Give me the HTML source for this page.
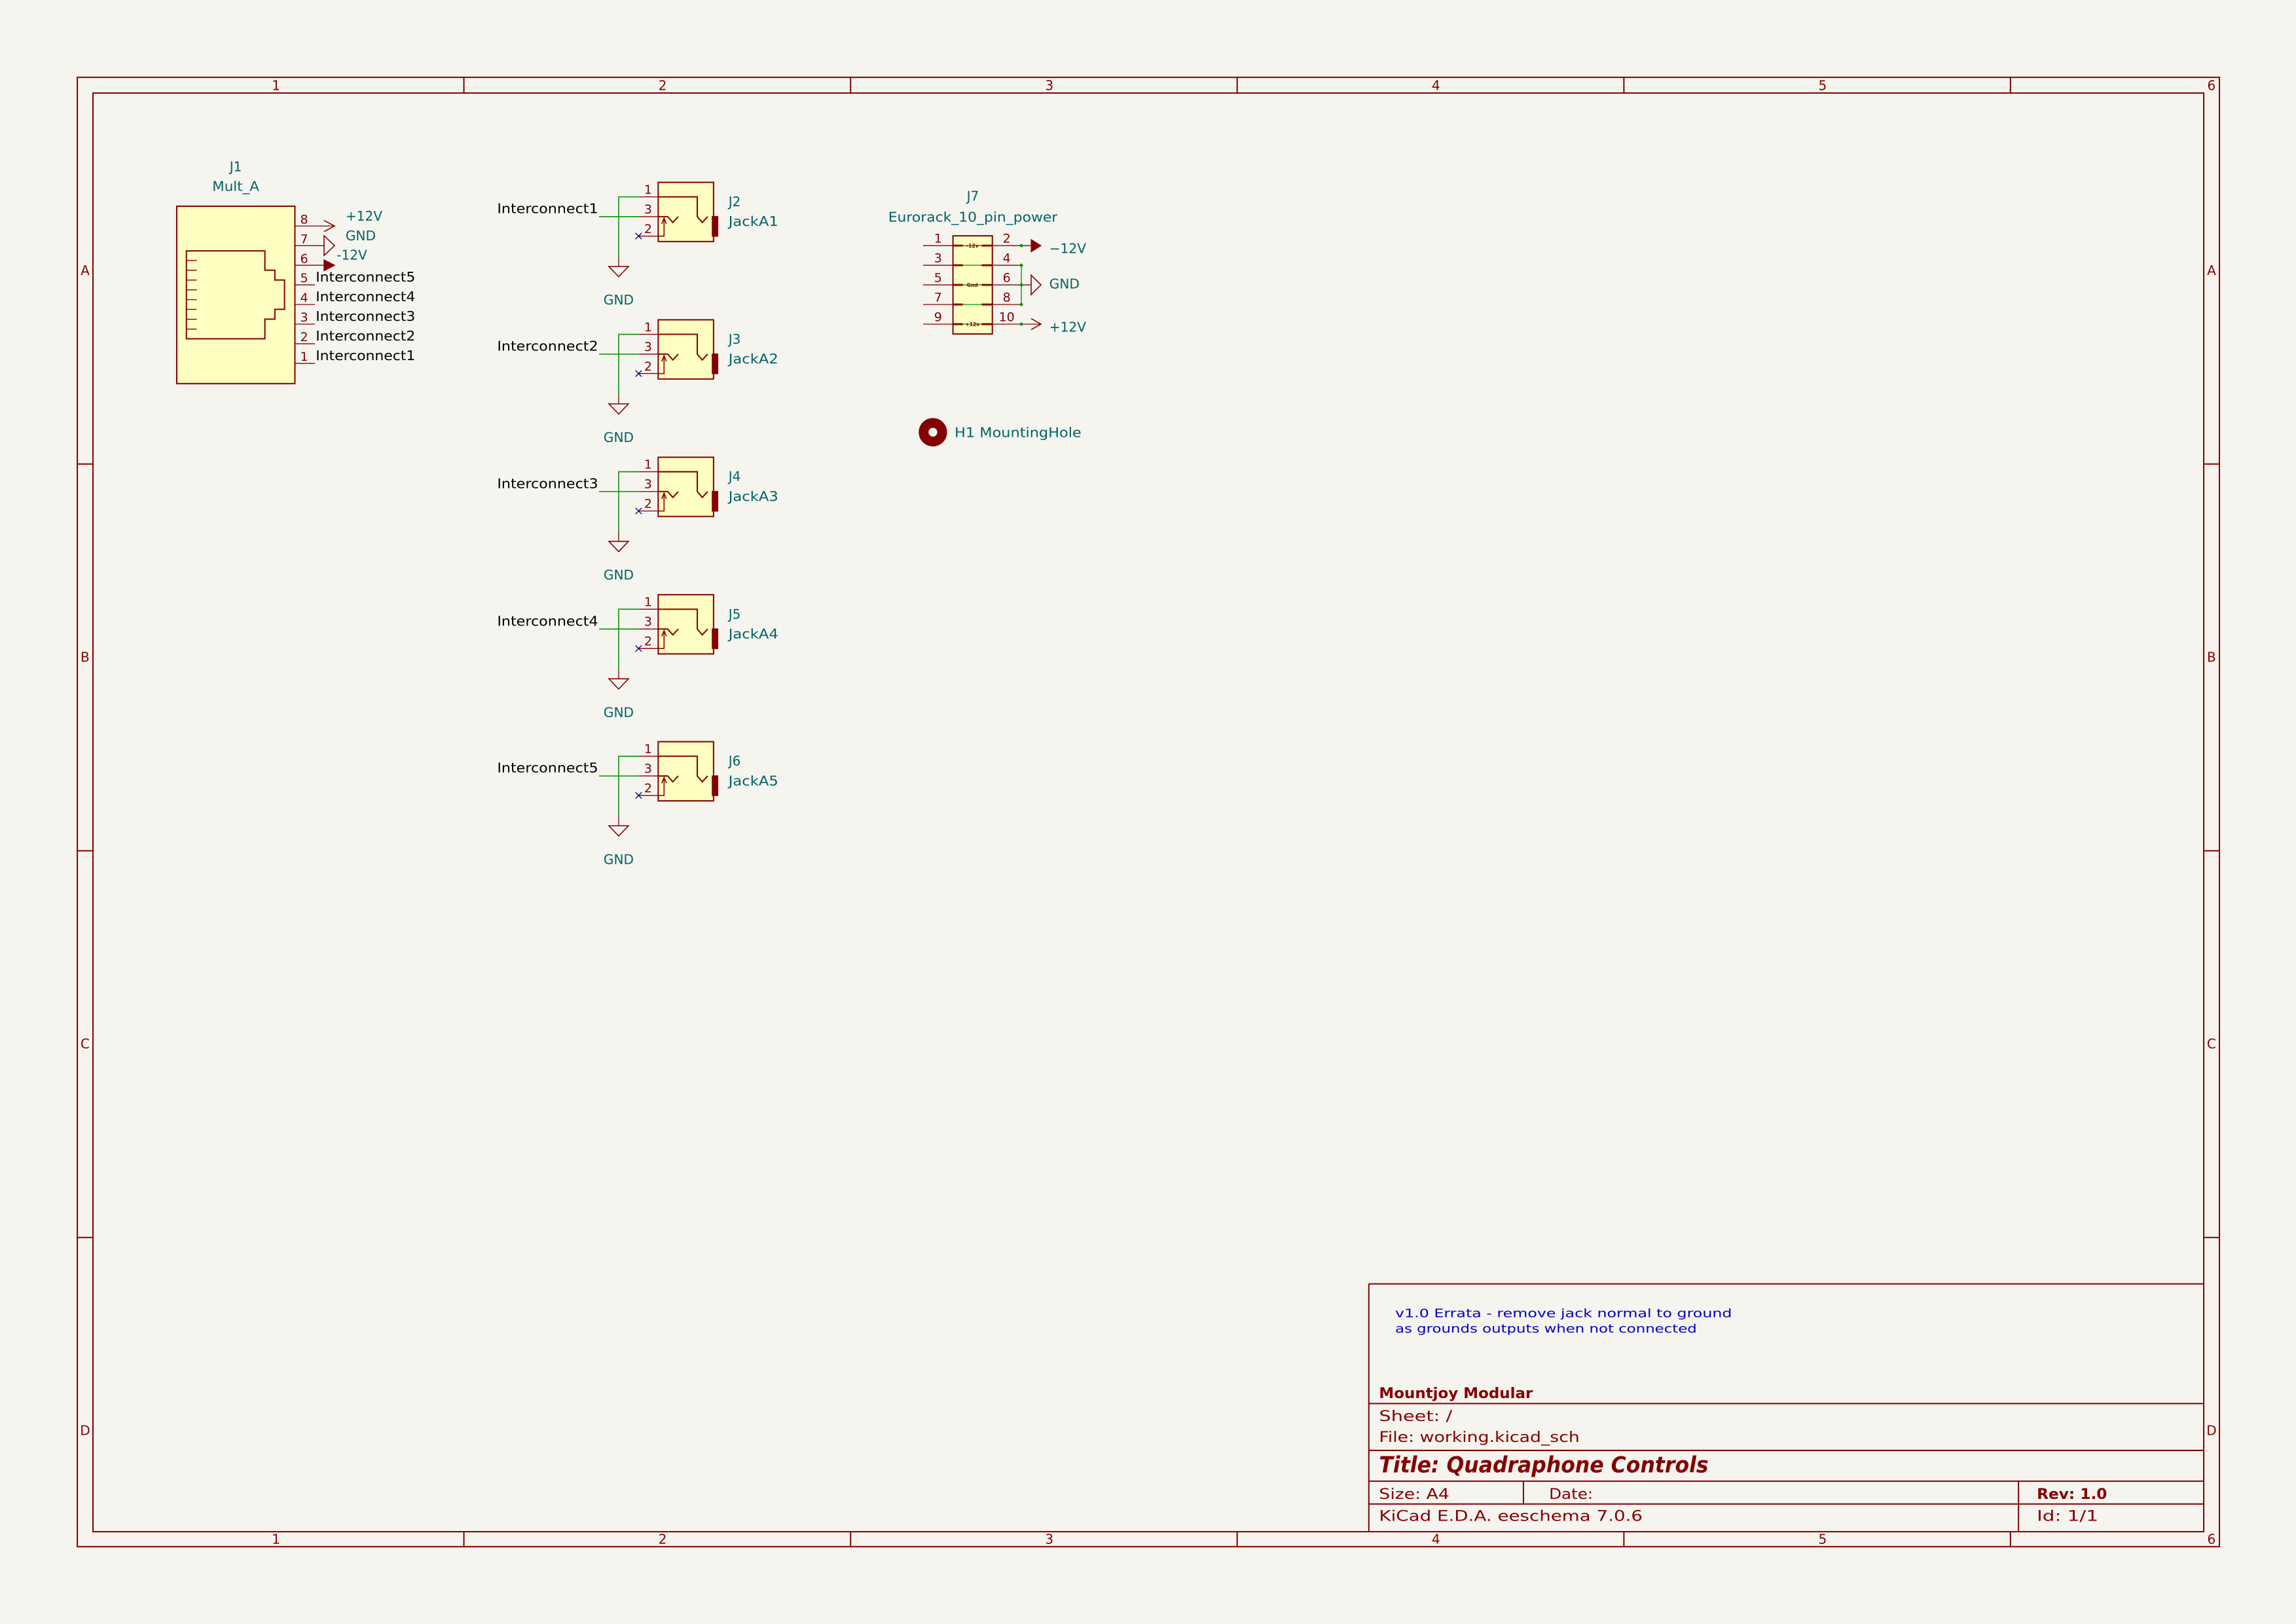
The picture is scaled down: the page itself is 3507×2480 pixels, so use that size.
<!DOCTYPE html>
<html><head><meta charset="utf-8">
<style>
html,body{margin:0;padding:0;background:#f5f4ef;}
svg{display:block;}
text{font-family:"DejaVu Sans","Liberation Sans",sans-serif;}
.r{fill:#840000;}
.t{fill:#006464;}
.k{fill:#000;}
</style></head>
<body>
<svg xmlns="http://www.w3.org/2000/svg" width="3507" height="2480" viewBox="0 0 1568 1108.8">
<rect x="0" y="0" width="1568" height="1108.8" fill="#f5f4ef"/>
<defs>
<g id="jack">
  <rect x="449.5" y="124.5" width="37.8" height="40.4" fill="#ffffc2" stroke="#840000" stroke-width="0.9"/>
  <rect x="486.1" y="147.5" width="4.4" height="14.1" fill="#840000"/>
  <g stroke="#840000" stroke-width="0.6" fill="none">
    <path d="M436.1 134.4H449.5M436.1 147.9H449.5M436.1 161.2H449.5"/>
    <path d="M449.5 134.4H476.2V147.9L479.6 151.9L483.3 147.9" stroke-width="0.9"/>
    <path d="M449.5 147.9H456L459.5 151.9L463.2 147.9" stroke-width="0.9"/>
    <path d="M449.5 161.2H453.5V149.5M451.9 152.9L453.5 149L455.1 152.9" stroke-width="0.7"/>
    <path d="M422.5 175.5V181.9"/>
    <path d="M415.8 181.9H429.2L422.5 188.9Z" stroke-width="0.7"/>
  </g>
  <path d="M434 159.1L438.2 163.3M438.2 159.1L434 163.3" stroke="#000084" stroke-width="0.6"/>
  <g stroke="#009600" stroke-width="0.7" fill="none">
    <path d="M436.1 134.4H422.5V175.5"/>
    <path d="M409.1 147.9H436.1"/>
  </g>
</g>
</defs>

<!-- border -->
<g stroke="#840000" stroke-width="0.9" fill="none">
  <rect x="52.8" y="52.8" width="1462.9" height="1003.2"/>
  <rect x="63.5" y="63.5" width="1441.5" height="982.3"/>
  <path d="M316.8 52.8V63.5M580.9 52.8V63.5M844.9 52.8V63.5M1109 52.8V63.5M1373 52.8V63.5"/>
  <path d="M316.8 1045.8V1056M580.9 1045.8V1056M844.9 1045.8V1056M1109 1045.8V1056M1373 1045.8V1056"/>
  <path d="M52.8 316.8H63.5M52.8 580.9H63.5M52.8 844.9H63.5"/>
  <path d="M1505 316.8H1515.7M1505 580.9H1515.7M1505 844.9H1515.7"/>
</g>
<g class="r" font-size="9" text-anchor="middle">
  <text x="188.5" y="61.4">1</text><text x="452.5" y="61.4">2</text><text x="716.6" y="61.4">3</text><text x="980.6" y="61.4">4</text><text x="1244.7" y="61.4">5</text><text x="1510.3" y="61.4">6</text>
  <text x="188.5" y="1054">1</text><text x="452.5" y="1054">2</text><text x="716.6" y="1054">3</text><text x="980.6" y="1054">4</text><text x="1244.7" y="1054">5</text><text x="1510.3" y="1054">6</text>
  <text x="58.1" y="187.8">A</text><text x="58.1" y="451.8">B</text><text x="58.1" y="715.9">C</text><text x="58.1" y="979.9">D</text>
  <text x="1510.3" y="187.8">A</text><text x="1510.3" y="451.8">B</text><text x="1510.3" y="715.9">C</text><text x="1510.3" y="979.9">D</text>
</g>

<!-- title block -->
<g stroke="#840000" stroke-width="0.9" fill="none">
  <path d="M934.8 876.6H1505M934.8 876.6V1045.8"/>
  <path d="M934.8 958.3H1505M934.8 990.3H1505M934.8 1011.3H1505M934.8 1026.9H1505"/>
  <path d="M1040.4 1011.3V1026.9M1378.5 1011.3V1045.8"/>
</g>
<g font-size="8" fill="#0000c2">
  <text x="952.8" y="899.4" textLength="230" lengthAdjust="spacingAndGlyphs">v1.0 Errata - remove jack normal to ground</text>
  <text x="952.8" y="909.8" textLength="206" lengthAdjust="spacingAndGlyphs">as grounds outputs when not connected</text>
</g>
<g class="r">
  <text x="941.8" y="954.6" font-size="10" font-weight="bold" textLength="105" lengthAdjust="spacingAndGlyphs">Mountjoy Modular</text>
  <text x="941.8" y="970.2" font-size="10" textLength="50" lengthAdjust="spacingAndGlyphs">Sheet: /</text>
  <text x="941.8" y="984.6" font-size="10" textLength="137" lengthAdjust="spacingAndGlyphs">File: working.kicad_sch</text>
  <text x="941.8" y="1005.2" font-size="15" font-weight="bold" font-style="italic" textLength="225" lengthAdjust="spacingAndGlyphs">Title: Quadraphone Controls</text>
  <text x="941.8" y="1023.5" font-size="10" textLength="48" lengthAdjust="spacingAndGlyphs">Size: A4</text>
  <text x="1057.9" y="1023.5" font-size="10" textLength="30" lengthAdjust="spacingAndGlyphs">Date:</text>
  <text x="1391" y="1023.5" font-size="10" font-weight="bold" textLength="48" lengthAdjust="spacingAndGlyphs">Rev: 1.0</text>
  <text x="941.8" y="1038.3" font-size="10" textLength="180" lengthAdjust="spacingAndGlyphs">KiCad E.D.A.  eeschema 7.0.6</text>
  <text x="1391" y="1038.3" font-size="10" textLength="42" lengthAdjust="spacingAndGlyphs">Id: 1/1</text>
</g>

<!-- J1 -->
<g stroke="#840000" fill="none">
  <rect x="120.7" y="140.8" width="80.7" height="121.1" fill="#ffffc2" stroke-width="0.9"/>
  <path d="M127.3 171.3H180.9V184.5H187.7V191.2H194.3V211.2H187.7V217.9H180.9V231.3H127.3Z" stroke-width="0.9"/>
  <path d="M127.3 177.8H134.4M127.3 184.5H134.4M127.3 191.2H134.4M127.3 197.9H134.4M127.3 204.6H134.4M127.3 211.2H134.4M127.3 218H134.4M127.3 224.7H134.4" stroke-width="0.6"/>
  <path d="M201.4 154.3H228.5M201.4 167.7H221.3M201.4 181.1H221.3M201.4 194.5H215.1M201.4 207.9H215.1M201.4 221.3H215.1M201.4 234.7H215.1M201.4 248.1H215.1" stroke-width="0.6"/>
  <path d="M221.3 150.5L228.5 154.3L221.3 158.1" stroke-width="0.7"/>
  <path d="M221.3 160.9L228.5 167.7L221.3 174.4Z" stroke-width="0.7"/>
</g>
<path d="M221.3 177.4L228.5 181.1L221.3 184.8Z" fill="#840000" stroke="#840000" stroke-width="0.6"/>
<g class="t" font-size="9">
  <text x="161" y="117" text-anchor="middle">J1</text>
  <text x="161" y="130.4" text-anchor="middle" textLength="32" lengthAdjust="spacingAndGlyphs">Mult_A</text>
  <text x="236" y="150.7">+12V</text>
  <text x="236" y="164">GND</text>
  <text x="229.9" y="177.3">-12V</text>
</g>
<g class="r" font-size="8.5" text-anchor="middle">
  <text x="207.7" y="152.6">8</text><text x="207.7" y="166">7</text><text x="207.7" y="179.4">6</text><text x="207.7" y="192.8">5</text>
  <text x="207.7" y="206.2">4</text><text x="207.7" y="219.6">3</text><text x="207.7" y="233">2</text><text x="207.7" y="246.4">1</text>
</g>
<g class="k" font-size="9">
  <text x="215.6" y="192.3" textLength="68" lengthAdjust="spacingAndGlyphs">Interconnect5</text>
  <text x="215.6" y="205.7" textLength="68" lengthAdjust="spacingAndGlyphs">Interconnect4</text>
  <text x="215.6" y="219.1" textLength="68" lengthAdjust="spacingAndGlyphs">Interconnect3</text>
  <text x="215.6" y="232.5" textLength="68" lengthAdjust="spacingAndGlyphs">Interconnect2</text>
  <text x="215.6" y="245.9" textLength="68" lengthAdjust="spacingAndGlyphs">Interconnect1</text>
</g>

<!-- Jacks -->
<use href="#jack" transform="translate(0,0)"/>
<use href="#jack" transform="translate(0,93.85)"/>
<use href="#jack" transform="translate(0,187.7)"/>
<use href="#jack" transform="translate(0,281.55)"/>
<use href="#jack" transform="translate(0,381.9)"/>

<g font-size="8.5" class="r" text-anchor="middle">
  <text x="442.6" y="132.3">1</text><text x="442.6" y="145.7">3</text><text x="442.6" y="159.1">2</text>
  <text x="442.6" y="226.2">1</text><text x="442.6" y="239.6">3</text><text x="442.6" y="253">2</text>
  <text x="442.6" y="320">1</text><text x="442.6" y="333.4">3</text><text x="442.6" y="346.8">2</text>
  <text x="442.6" y="413.9">1</text><text x="442.6" y="427.3">3</text><text x="442.6" y="440.7">2</text>
  <text x="442.6" y="514.2">1</text><text x="442.6" y="527.6">3</text><text x="442.6" y="541">2</text>
</g>
<g font-size="9" class="t">
  <text x="497.5" y="140.8">J2</text><text x="497.5" y="154.3" textLength="34" lengthAdjust="spacingAndGlyphs">JackA1</text>
  <text x="497.5" y="234.7">J3</text><text x="497.5" y="248.2" textLength="34" lengthAdjust="spacingAndGlyphs">JackA2</text>
  <text x="497.5" y="328.5">J4</text><text x="497.5" y="342" textLength="34" lengthAdjust="spacingAndGlyphs">JackA3</text>
  <text x="497.5" y="422.4">J5</text><text x="497.5" y="435.9" textLength="34" lengthAdjust="spacingAndGlyphs">JackA4</text>
  <text x="497.5" y="522.7">J6</text><text x="497.5" y="536.2" textLength="34" lengthAdjust="spacingAndGlyphs">JackA5</text>
</g>
<g font-size="9" class="t" text-anchor="middle">
  <text x="422.5" y="208">GND</text>
  <text x="422.5" y="301.9">GND</text>
  <text x="422.5" y="395.7">GND</text>
  <text x="422.5" y="489.6">GND</text>
  <text x="422.5" y="589.9">GND</text>
</g>
<g font-size="9" class="k" text-anchor="end">
  <text x="408.5" y="145.5" textLength="69" lengthAdjust="spacingAndGlyphs">Interconnect1</text>
  <text x="408.5" y="239.4" textLength="69" lengthAdjust="spacingAndGlyphs">Interconnect2</text>
  <text x="408.5" y="333.2" textLength="69" lengthAdjust="spacingAndGlyphs">Interconnect3</text>
  <text x="408.5" y="427.1" textLength="69" lengthAdjust="spacingAndGlyphs">Interconnect4</text>
  <text x="408.5" y="527.4" textLength="69" lengthAdjust="spacingAndGlyphs">Interconnect5</text>
</g>

<!-- J7 -->
<rect x="650.8" y="161" width="26.9" height="67" fill="#ffffc2" stroke="#840000" stroke-width="0.9"/>
<g stroke="#009600" stroke-width="0.6">
  <path d="M657.6 167.7H670.4M657.6 181.1H670.4M657.6 194.5H670.4M657.6 207.9H670.4M657.6 221.3H670.4"/>
  <path d="M697.5 181.1V207.9"/>
</g>
<g stroke="#840000" stroke-width="1.3">
  <path d="M650.8 167.7H657.6M650.8 181.1H657.6M650.8 194.5H657.6M650.8 207.9H657.6M650.8 221.3H657.6"/>
  <path d="M670.4 167.7H677.7M670.4 181.1H677.7M670.4 194.5H677.7M670.4 207.9H677.7M670.4 221.3H677.7"/>
</g>
<g stroke="#840000" stroke-width="0.6" fill="none">
  <path d="M630.4 167.7H650.8M630.4 181.1H650.8M630.4 194.5H650.8M630.4 207.9H650.8M630.4 221.3H650.8"/>
  <path d="M677.7 167.7H704.2M677.7 181.1H697.5M677.7 194.5H704.2M677.7 207.9H697.5M677.7 221.3H710.9"/>
  <path d="M704.2 187.8L710.9 194.5L704.2 201.2Z" stroke-width="0.7"/>
  <path d="M704.2 217.5L710.9 221.3L704.2 225.1" stroke-width="0.7"/>
</g>
<path d="M704.2 163.5L710.9 167.7L704.2 172Z" fill="#840000" stroke="#840000" stroke-width="0.5"/>
<g fill="#009600">
  <circle cx="697.5" cy="167.7" r="1.1"/><circle cx="697.5" cy="181.1" r="1.1"/><circle cx="697.5" cy="194.5" r="1.1"/>
  <circle cx="697.5" cy="207.9" r="1.1"/><circle cx="697.5" cy="221.3" r="1.1"/>
</g>
<g class="r" font-size="3.4" font-weight="bold" text-anchor="middle">
  <text x="664.1" y="169">-12v</text><text x="664.1" y="195.8">Gnd</text><text x="664.1" y="222.6">+12v</text>
</g>
<g class="r" font-size="8.5" text-anchor="middle">
  <text x="640.6" y="165.6">1</text><text x="640.6" y="179">3</text><text x="640.6" y="192.4">5</text><text x="640.6" y="205.8">7</text><text x="640.6" y="219.2">9</text>
  <text x="687.5" y="165.6">2</text><text x="687.5" y="179">4</text><text x="687.5" y="192.4">6</text><text x="687.5" y="205.8">8</text><text x="687.5" y="219.2">10</text>
</g>
<g class="t" font-size="9">
  <text x="664.4" y="137.1" text-anchor="middle">J7</text>
  <text x="664.4" y="151.3" text-anchor="middle" textLength="115.6" lengthAdjust="spacingAndGlyphs">Eurorack_10_pin_power</text>
  <text x="716.6" y="172.9">−12V</text>
  <text x="716.6" y="197">GND</text>
  <text x="716.6" y="226.5">+12V</text>
</g>

<!-- H1 -->
<circle cx="637.1" cy="295.1" r="9.7" fill="#840000"/>
<circle cx="637.1" cy="295.1" r="3" fill="#f5f4ef"/>
<text x="651.9" y="298.4" class="t" font-size="9" textLength="86.6" lengthAdjust="spacingAndGlyphs">H1  MountingHole</text>
</svg>
</body></html>
